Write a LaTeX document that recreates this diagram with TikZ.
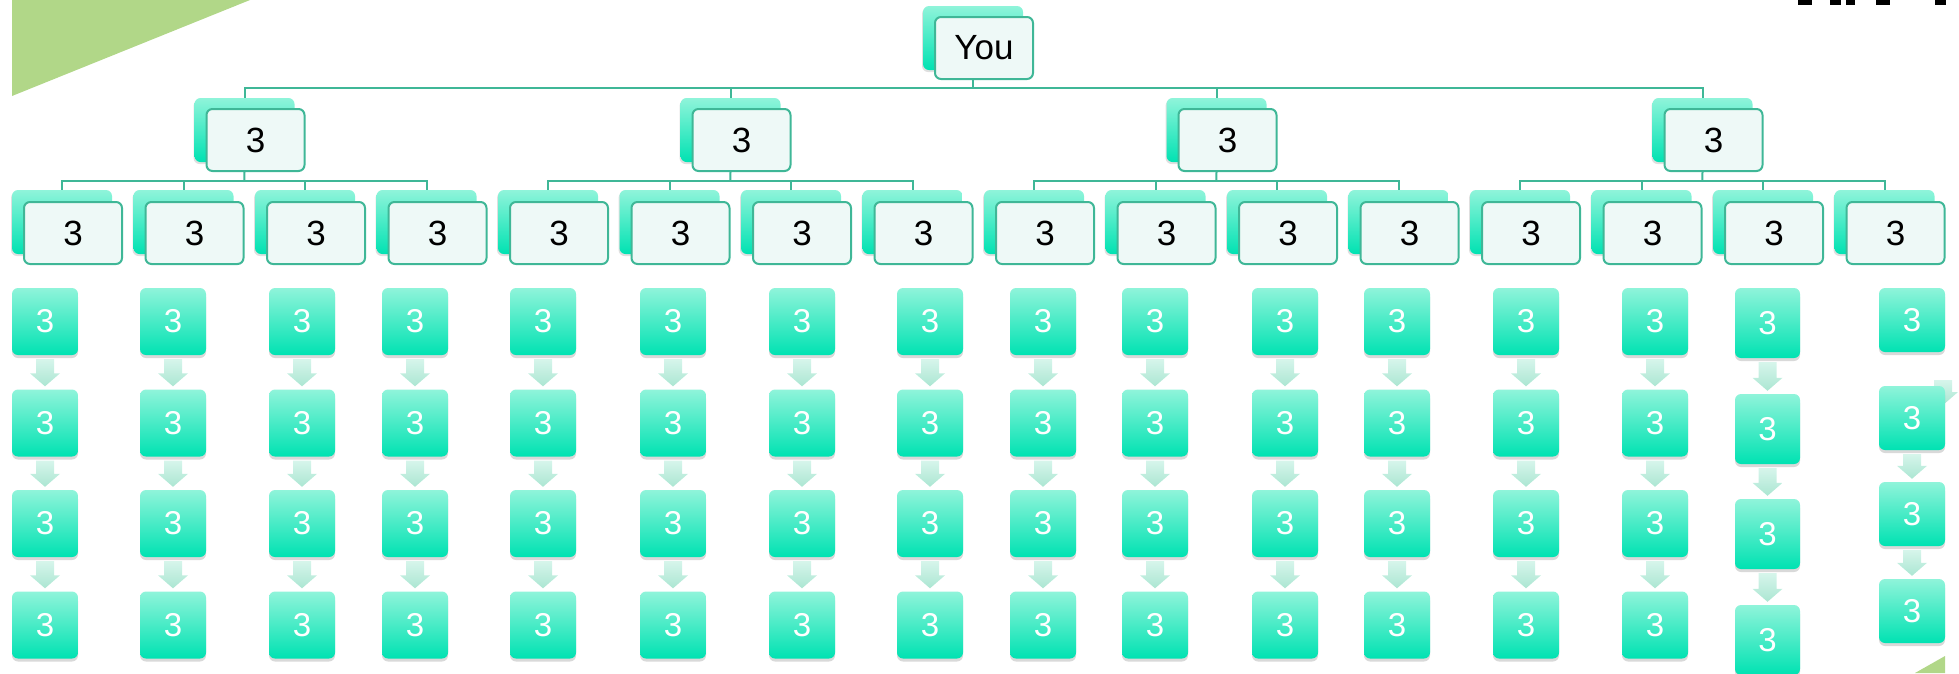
\documentclass[tikz,border=0pt]{standalone}
\usepackage{fontspec}
\setmainfont{Liberation Sans}
\usetikzlibrary{calc,shadows}
\definecolor{lineteal}{HTML}{3FB797}
\definecolor{boxtop}{HTML}{8FF4DA}
\definecolor{boxbot}{HTML}{00E2B2}
\definecolor{frontfill}{HTML}{EEF9F7}
\definecolor{atop}{HTML}{D6F5EB}
\definecolor{abot}{HTML}{ABE6D2}
\definecolor{leafgreen}{HTML}{B1D788}
\newcommand\chainarrow[2]{%
  \path[arr] ($(#1.south)+(-9,4)$) -- ($(#1.south)+(9,4)$) -- ($(#2.north)+(9,-16)$) -- ($(#2.north)+(15,-16)$) -- ($(#2.north)+(0,-3)$) -- ($(#2.north)+(-15,-16)$) -- ($(#2.north)+(-9,-16)$) -- cycle;}
\begin{document}
\begin{tikzpicture}[x=1pt,y=-1pt,
  conn/.style={draw=lineteal,line width=2pt},
  backbox/.style={rectangle,rounded corners=6pt,minimum width=100pt,minimum height=64pt,inner sep=0pt,
    top color=boxtop,bottom color=boxbot,drop shadow={shadow xshift=-1pt,shadow yshift=-2pt,opacity=.25}},
  frontbox/.style={rectangle,rounded corners=6pt,minimum width=98pt,minimum height=62pt,inner sep=0pt,
    fill=frontfill,draw=lineteal,line width=2pt,text=black,font=\fontsize{35pt}{40pt}\selectfont},
  chainbox/.style={rectangle,rounded corners=6pt,minimum width=66pt,minimum height=67pt,inner sep=0pt,
    top color=boxtop,bottom color=boxbot,text=white,font=\fontsize{33pt}{38pt}\selectfont,
    drop shadow={shadow xshift=0pt,shadow yshift=-3pt,opacity=.3}},
  arr/.style={top color=atop,bottom color=abot}
]
\useasboundingbox (0,0) rectangle (1959,673);
% decorative triangles
\fill[leafgreen] (12,0) -- (250,0) -- (12,96) -- cycle;
\fill[leafgreen] (1915,673) -- (1945,656) -- (1945,673) -- cycle;
% cut-off marks at the top edge
\foreach \a/\b in {1798/1812,1830/1841,1846/1855,1876/1890,1935/1946} {
  \fill[black] (\a,0) rectangle (\b,5);
}
% level 0
\node[backbox] (youb) at (973,38) {};
\node[frontbox] (you) at (984,48) {You};
% level 1
\foreach \g in {0,...,3} {
  \node[backbox] (L1b-\g) at ({244.5+486*\g},130) {};
  \node[frontbox] (L1-\g) at ({255.5+486*\g},140) {3};
}
% level 2
\foreach \k in {0,...,15} {
  \node[backbox] (L2b-\k) at ({62+121.5*\k},222) {};
  \node[frontbox] (L2-\k) at ({73+121.5*\k},233) {3};
}
% connectors
\coordinate (j0) at (973,88);
\draw[conn] (youb |- you.south) -- (j0);
\foreach \g in {0,...,3} {
  \draw[conn] (L1b-\g.north) |- (j0);
  \coordinate (jg\g) at ({244.25+486*\g},181);
  \draw[conn] (L1b-\g |- L1-\g.south) -- (jg\g);
  \foreach \i in {0,...,3} {
    \pgfmathtruncatemacro\k{4*\g+\i}
    \draw[conn] (L2b-\k.north) |- (jg\g);
  }
}
% chains, columns 1-14
\foreach \x [count=\c] in {45,173,302,415,543,673,802,930,1043,1155,1285,1397,1526,1655} {
  \foreach \r/\y in {1/321.5,2/423,3/523.5,4/625} {
    \node[chainbox] (C\c-\r) at (\x,\y) {3};
  }
  \foreach \r [evaluate=\r as \s using int(\r+1)] in {1,2,3} {
    \chainarrow{C\c-\r}{C\c-\s}
  }
}
% column 15
\foreach \r/\y in {1/323,2/429,3/534,4/640} {
  \node[chainbox,minimum width=65pt,minimum height=70pt] (C15-\r) at (1767.5,\y) {3};
}
\chainarrow{C15-1}{C15-2}
\chainarrow{C15-2}{C15-3}
\chainarrow{C15-3}{C15-4}
% column 16
\coordinate (fa) at (1943,380);
\coordinate (fb) at (1943,405);
\path[arr] ($(fa)+(-9,0)$) -- ($(fa)+(9,0)$) -- ($(fb)+(9,-13)$) -- ($(fb)+(15,-13)$) -- (fb) -- ($(fb)+(-15,-13)$) -- ($(fb)+(-9,-13)$) -- cycle;
\foreach \r/\y in {1/320,2/418,3/514,4/611} {
  \node[chainbox,minimum height=64pt] (C16-\r) at (1912,\y) {3};
}
\chainarrow{C16-2}{C16-3}
\chainarrow{C16-3}{C16-4}
\end{tikzpicture}
\end{document}
